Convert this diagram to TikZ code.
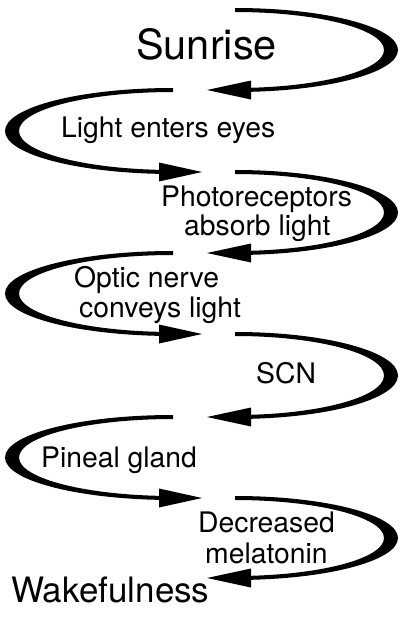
\documentclass[tikz,border=0pt]{standalone}
\usepackage{fontspec}
\setmainfont{TeX Gyre Heros}
\newcommand{\crescR}[2]{%
  \pgfmathsetmacro\cryo{(#2-#1)/2+2}%
  \pgfmathsetmacro\cryi{(#2-#1)/2-2}%
  \pgfmathsetmacro\ta{#1-2}%
  \pgfmathsetmacro\tb{#2-2}%
  \pgfmathsetmacro\ba{#2-9.5}%
  \pgfmathsetmacro\bb{#2+9.5}%
  \fill[arcfill] (235,\ta) arc[start angle=-90,end angle=90,x radius=163,y radius=\cryo]
     -- (235,\tb) arc[start angle=90,end angle=-90,x radius=149,y radius=\cryi] -- cycle;
  \fill[arcfill] (251,\ba) -- (207,#2) -- (251,\bb) -- cycle;
}
\newcommand{\crescL}[2]{%
  \pgfmathsetmacro\cryo{(#2-#1)/2+2}%
  \pgfmathsetmacro\cryi{(#2-#1)/2-2}%
  \pgfmathsetmacro\ta{#1-2}%
  \pgfmathsetmacro\tb{#2-2}%
  \pgfmathsetmacro\ba{#2-9.5}%
  \pgfmathsetmacro\bb{#2+9.5}%
  \fill[arcfill] (173,\ta) arc[start angle=-90,end angle=-270,x radius=168,y radius=\cryo]
     -- (173,\tb) arc[start angle=90,end angle=270,x radius=154,y radius=\cryi] -- cycle;
  \fill[arcfill] (159,\ba) -- (202,#2) -- (159,\bb) -- cycle;
}
\begin{document}
\begin{tikzpicture}[x=1pt,y=-1pt,
  arcfill/.style={black},
  lbl/.style={inner sep=0pt, anchor=base west, font=\fontsize{28.3}{30}\selectfont},
  biglbl/.style={inner sep=0pt, anchor=base west, font=\fontsize{41.5}{44}\selectfont},
  endlbl/.style={inner sep=0pt, anchor=base west, font=\fontsize{35}{38}\selectfont}]
\useasboundingbox[fill=white] (0,0) rectangle (400,640);
\crescR{10}{90}
\crescL{90}{172}
\crescR{172}{253}
\crescL{253}{334}
\crescR{334}{417}
\crescL{417}{498}
\crescR{498}{578}
\node[biglbl] (sunrise) at (136,59) {Sunrise};
\node[lbl] (light) at (61,137) {Light enters eyes};
\node[lbl] (photo1) at (161,206) {Photoreceptors};
\node[lbl] (photo2) at (184,235) {absorb light};
\node[lbl] (optic1) at (74,287) {Optic nerve};
\node[lbl] (optic2) at (79,317) {conveys light};
\node[lbl] (scn) at (256,383) {SCN};
\node[lbl] (pineal) at (41,467) {Pineal gland};
\node[lbl] (decr1) at (198,532) {Decreased};
\node[lbl] (decr2) at (205,563) {melatonin};
\node[endlbl] (wake) at (11,602) {Wakefulness};
\end{tikzpicture}
\end{document}
